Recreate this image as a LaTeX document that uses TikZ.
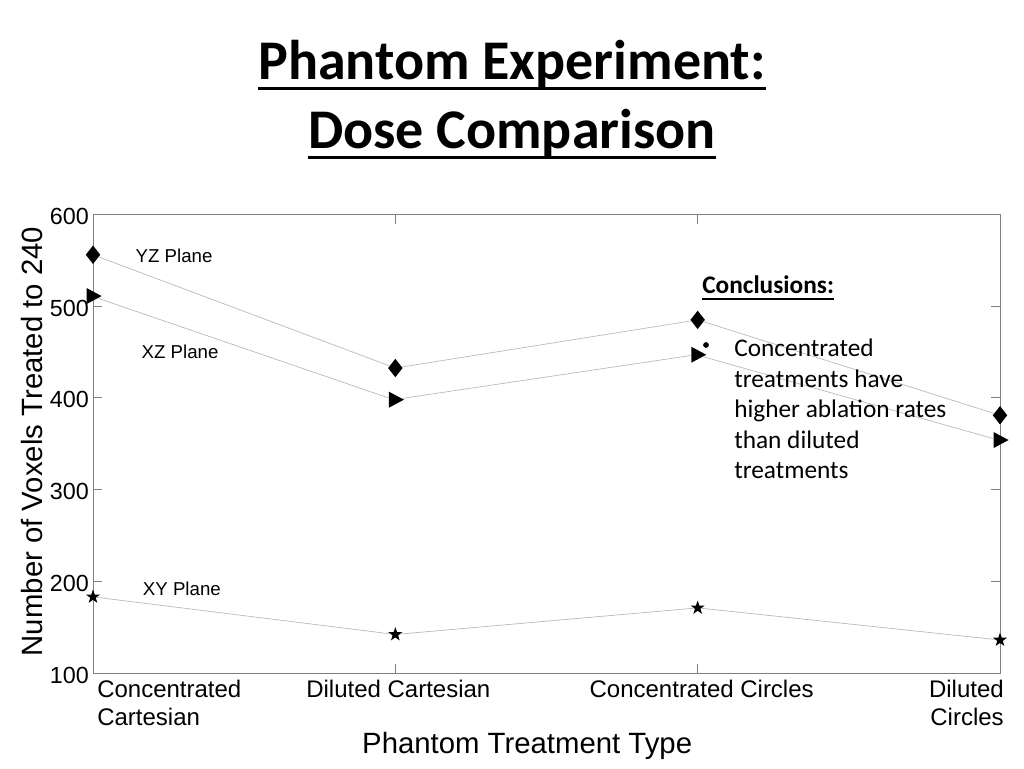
\documentclass[tikz,border=0pt]{standalone}
\usepackage{fontspec}
\setmainfont{Liberation Sans}
\newfontfamily\calibri{Carlito}
\tikzset{yzmark/.style = {fill, diamond, inner sep = 0, minimum width = 11pt, minimum height = 14pt}}
\tikzset{xzmark/.style = {fill, isosceles triangle, isosceles triangle stretches, inner sep = 0, minimum width = 12pt, minimum height = 11.25pt, xshift = -1.2pt}}
\tikzset{xymark/.style = {fill, star, star points = 5, star point ratio = 2.5, inner sep = 0, minimum size = 11pt}}
\tikzset{dataline/.style = {draw = black!28, line width = 0.5pt}}
\tikzset{axisbox/.style = {draw = black!50, line width = 0.75pt}}
\tikzset{ticklab/.style = {anchor = east, inner sep = 0, font = \fontsize{17.5}{20}\selectfont}}
\tikzset{catlab/.style = {inner sep = 0, font = \fontsize{18}{21.5}\selectfont}}
\tikzset{planelab/.style = {inner sep = 0, font = \fontsize{14}{17}\selectfont}}
\usetikzlibrary{shapes.geometric}

\begin{document}
\begin{tikzpicture}
    \fill [white] (0, 0) rectangle (768pt, 576pt);
    \useasboundingbox (0, 0) rectangle (768pt, 576pt);
    % title
    \node (title1) [anchor = base, inner sep = 0, font = \calibri\bfseries\fontsize{42}{52}\selectfont] at (384pt, 516.25pt) {Phantom Experiment:};
    \node (title2) [anchor = base, inner sep = 0, font = \calibri\bfseries\fontsize{42}{52}\selectfont] at (384pt, 464.5pt) {Dose Comparison};
    \draw [line width = 2.25pt] ([yshift = -6.5pt] title1.base west) -- ([yshift = -6.5pt] title1.base east);
    \draw [line width = 2.25pt] ([yshift = -6.5pt] title2.base west) -- ([yshift = -6.5pt] title2.base east);
    % plot, in data units
    \begin{scope}[x = 226.75pt, y = 0.6879pt, shift = {(-157pt, 2.46pt)}]
      \draw [axisbox] (1, 100) rectangle (4, 600);
      \foreach \v in {100, 200, ..., 600} {
        \draw [axisbox] (1, \v) -- ++(6.75pt, 0);
        \draw [axisbox] (4, \v) -- ++(-6.75pt, 0);
        \node (tick\v) [ticklab] at ([xshift = -3pt, yshift = -1.5pt] 1, \v) {\v};
      }
      \foreach \c in {2, 3} {
        \draw [axisbox] (\c, 100) -- ++(0, 7pt);
        \draw [axisbox] (\c, 600) -- ++(0, -7pt);
      }
      \node (yz1) [yzmark] at (1, 556) {};
      \node (yz2) [yzmark] at (2, 432.5) {};
      \node (yz3) [yzmark] at (3, 485) {};
      \node (yz4) [yzmark] at (4, 381) {};
      \node (xz1) [xzmark] at (1, 511) {};
      \node (xz2) [xzmark] at (2, 398) {};
      \node (xz3) [xzmark] at (3, 447) {};
      \node (xz4) [xzmark] at (4, 354) {};
      \node (xy1) [xymark] at (1, 183) {};
      \node (xy2) [xymark] at (2, 142) {};
      \node (xy3) [xymark] at (3, 171) {};
      \node (xy4) [xymark] at (4, 136) {};
      \draw [dataline] (yz1) -- (yz2) -- (yz3) -- (yz4);
      \draw [dataline] (xz1) -- (xz2) -- (xz3) -- (xz4);
      \draw [dataline] (xy1) -- (xy2) -- (xy3) -- (xy4);
      \node (yzlab) [planelab] at (1.268, 554.6) {YZ Plane};
      \node (xzlab) [planelab] at (1.288, 450) {XZ Plane};
      \node (xylab) [planelab] at (1.294, 191.6) {XY Plane};
      \node (cat1) [catlab, anchor = north west, align = left] at ([xshift = 3pt, yshift = -5pt] 1, 100) {Concentrated\\Cartesian};
      \node (cat2) [catlab, anchor = base] at ([xshift = 2.25pt, yshift = -18pt] 2, 100) {Diluted Cartesian};
      \node (cat3) [catlab, anchor = base] at ([xshift = 3pt, yshift = -18pt] 3, 100) {Concentrated Circles};
      \node (cat4) [catlab, anchor = north east, align = right] at ([xshift = 3pt, yshift = -5pt] 4, 100) {Diluted\\Circles};
      \node (xlab) [inner sep = 0, font = \fontsize{22}{26}\selectfont] at (2.436, 20.4) {Phantom Treatment Type};
      \node (ylab) [inner sep = 0, rotate = 90, font = \fontsize{22}{26}\selectfont] at (0.798, 352.4) {Number of Voxels Treated to 240};
    \end{scope}
    % conclusions
    \node (conc) [anchor = base west, inner sep = 0, font = \calibri\bfseries\fontsize{19}{23}\selectfont] at (526.5pt, 355.5pt) {Conclusions:};
    \draw [line width = 1.5pt] ([yshift = -3.75pt] conc.base west) -- ([yshift = -3.75pt] conc.base east);
    \node (dot) [circle, fill, inner sep = 0, minimum size = 4.3pt] at (529.5pt, 317.25pt) {};
    \node (concbody) [anchor = north west, align = left, inner sep = 0, font = \calibri\fontsize{19}{22.9}\selectfont] at (550.5pt, 322pt) {Concentrated\\treatments have\\higher ablation rates\\than diluted\\treatments};
  \end{tikzpicture}
\end{document}
